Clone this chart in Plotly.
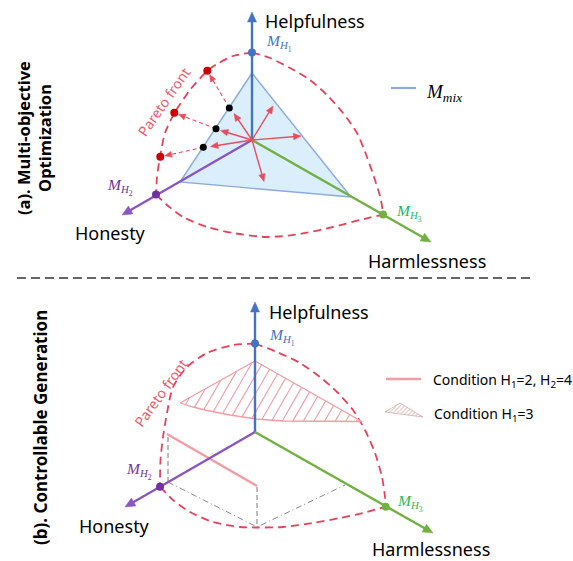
import numpy as np
import plotly.graph_objects as go

W, H = 573, 561
FONT = "Comic Sans MS, Noto Sans, sans-serif"
MATH = "Liberation Serif, DejaVu Serif, serif"

BLUE, PURPLE, GREEN = "#4472c4", "#8a56c2", "#72b043"
PURPLE_DOT, GREEN_TXT = "#7030a0", "#1db954"
RED_ARC, RED_ARROW, RED_DOT = "#e8415a", "#e84c5e", "#cc0000"
PINK, TRI_EDGE, TRI_FILL = "#f29ca5", "#8eaadb", "rgba(214,236,252,0.9)"
GRAY = "#888888"

# ---------------- panel (a): Multi-objective Optimization ----------------
A_ORIGIN = (252, 140)
A_TIP_HELP = (252, 12)
A_TIP_HON = (122, 215)
A_TIP_HARM = (431, 242)
A_M_X = [252, 156, 383]
A_M_Y = [52.5, 194.5, 214.5]
A_TRI_X = [252, 180, 351, 252]
A_TRI_Y = [73, 182, 197, 73]
A_ARC_LEFT_X = [252, 233, 217, 207, 190, 175, 165, 160, 157, 156]
A_ARC_LEFT_Y = [52.5, 56, 64, 71, 90, 112, 133, 157, 177, 194.5]
A_ARC_RIGHT_X = [252, 270, 290, 310, 327, 343, 357, 367, 375, 380, 382, 383]
A_ARC_RIGHT_Y = [52.5, 58, 68, 80, 95, 113, 133, 157, 180, 196, 206, 214.5]
A_ARC_BOT_X = [156, 167, 183, 207, 233, 267, 300, 333, 360, 383]
A_ARC_BOT_Y = [194.5, 205, 217, 227, 233, 237, 234, 227, 220, 214.5]
A_ARROW_X = [234, 220.5, 210.5, 273, 301, 264]
A_ARROW_Y = [113.5, 130.5, 146.5, 106, 136, 181.5]
A_BLACK_X = [229.3, 216, 203.3]
A_BLACK_Y = [108, 128.7, 147.3]
A_RED_X = [207.3, 174.3, 160.3]
A_RED_Y = [70.7, 112.8, 156.8]

# ---------------- panel (b): Controllable Generation ----------------
B_ORIGIN = (255, 432)
B_TIP_HELP = (255, 302)
B_TIP_HON = (125, 507)
B_TIP_HARM = (433, 533)
B_M_X = [255, 160, 385.7]
B_M_Y = [343.5, 486.7, 506.7]
B_ARC_LEFT_X = [255, 233, 207, 187, 173, 167, 163, 160.5, 160]
B_ARC_LEFT_Y = [343.5, 345, 353, 367, 387, 413, 437, 460, 486.7]
B_ARC_RIGHT_X = [255, 277, 300, 320, 337, 353, 365, 375, 382, 385, 385.7]
B_ARC_RIGHT_Y = [343.5, 352, 363, 377, 392, 410, 430, 453, 477, 497, 506.7]
B_ARC_BOT_X = [160, 173, 190, 213, 240, 257, 283, 313, 340, 363, 385.7]
B_ARC_BOT_Y = [486.7, 500, 512, 522, 527, 527.5, 527, 523, 518, 513, 506.7]
B_HATCH_X = [255, 180, 193, 207, 230, 256, 283, 320, 362, 255]
B_HATCH_Y = [361, 403, 407, 410.5, 415, 419, 421, 421.5, 421.5, 361]
B_COND_X = [167, 257]
B_COND_Y = [434, 486]
B_VDASH1_X, B_VDASH1_Y = [168, 168], [437, 482]
B_VDASH2_X, B_VDASH2_Y = [257, 257], [487, 527]
B_FLOOR_X = [168, 257, 345]
B_FLOOR_Y = [482, 527, 485]

fig = go.Figure()


def line(xs, ys, color, width, dash=None, shape="linear", fill=None, fillcolor=None, smoothing=None):
    ln = dict(color=color, width=width, dash=dash, shape=shape)
    if smoothing is not None:
        ln["smoothing"] = smoothing
    fig.add_trace(go.Scatter(x=xs, y=ys, mode="lines", hoverinfo="skip", line=ln,
                             fill=fill, fillcolor=fillcolor, showlegend=False))


def arrow(p0, p1, color, width, head_len, head_w, dash=None, stop=0.0):
    """Straight arrow from p0 to p1, ending in a filled triangular head."""
    p0 = np.array(p0, float)
    p1 = np.array(p1, float)
    d = (p1 - p0) / np.linalg.norm(p1 - p0)
    tip = p1 - stop * d
    n = np.array([-d[1], d[0]])
    base = tip - head_len * d
    end = tip - 0.7 * head_len * d
    line([p0[0], end[0]], [p0[1], end[1]], color, width, dash=dash)
    hx = [tip[0], base[0] + n[0] * head_w / 2, base[0] - n[0] * head_w / 2, tip[0]]
    hy = [tip[1], base[1] + n[1] * head_w / 2, base[1] - n[1] * head_w / 2, tip[1]]
    line(hx, hy, color, 0.5, fill="toself", fillcolor=color)


def dots(xs, ys, color, size):
    fig.add_trace(go.Scatter(x=xs, y=ys, mode="markers", hoverinfo="skip",
                             marker=dict(color=color, size=size, line=dict(width=0)),
                             showlegend=False))


def text(x, y, s, size, color="black", xanchor="center", family=FONT, angle=0):
    fig.add_annotation(x=x, y=y, text=s, showarrow=False, xanchor=xanchor, yanchor="middle",
                       textangle=angle, font=dict(family=family, size=size, color=color))


def hatch_segments(px, py, angle_deg, spacing):
    d = np.array([np.cos(np.radians(angle_deg)), -np.sin(np.radians(angle_deg))])
    n = np.array([-d[1], d[0]])
    pts = np.column_stack([px, py]).astype(float)
    proj = pts @ n
    xs, ys = [], []
    for c in np.arange(proj.min() + spacing * 0.6, proj.max(), spacing):
        p0 = c * n
        ts = []
        for i in range(len(pts) - 1):
            a, b = pts[i], pts[i + 1]
            e = b - a
            M = np.array([[e[0], -d[0]], [e[1], -d[1]]])
            if abs(np.linalg.det(M)) < 1e-9:
                continue
            s, t = np.linalg.solve(M, p0 - a)
            if -1e-9 <= s <= 1 + 1e-9:
                ts.append(t)
        if len(ts) >= 2:
            q1, q2 = p0 + min(ts) * d, p0 + max(ts) * d
            xs += [q1[0], q2[0], None]
            ys += [q1[1], q2[1], None]
    return xs, ys


# ---- panel (a) ----
line(A_TRI_X, A_TRI_Y, TRI_EDGE, 1.4, fill="toself", fillcolor=TRI_FILL)
for ax_, ay_ in [(A_ARC_LEFT_X, A_ARC_LEFT_Y), (A_ARC_RIGHT_X, A_ARC_RIGHT_Y), (A_ARC_BOT_X, A_ARC_BOT_Y)]:
    line(ax_, ay_, RED_ARC, 1.8, dash="8px,5px", shape="spline", smoothing=0.7)
for tip, col in [(A_TIP_HELP, BLUE), (A_TIP_HON, PURPLE), (A_TIP_HARM, GREEN)]:
    arrow(A_ORIGIN, tip, col, 2.4, 10, 9)
for bx, by, rx, ry in zip(A_BLACK_X, A_BLACK_Y, A_RED_X, A_RED_Y):
    arrow((bx, by), (rx, ry), RED_ARROW, 1.1, 7, 6, dash="4px,3px", stop=4.5)
for tx, ty in zip(A_ARROW_X, A_ARROW_Y):
    arrow(A_ORIGIN, (tx, ty), RED_ARROW, 1.4, 7.5, 6.5)
dots(A_BLACK_X, A_BLACK_Y, "black", 7)
dots(A_RED_X, A_RED_Y, RED_DOT, 8)
dots(A_M_X, A_M_Y, [BLUE, PURPLE_DOT, GREEN], 8)

# ---- panel (b) ----
for ax_, ay_ in [(B_ARC_LEFT_X, B_ARC_LEFT_Y), (B_ARC_RIGHT_X, B_ARC_RIGHT_Y), (B_ARC_BOT_X, B_ARC_BOT_Y)]:
    line(ax_, ay_, RED_ARC, 1.8, dash="8px,5px", shape="spline", smoothing=0.7)
hx, hy = hatch_segments(B_HATCH_X, B_HATCH_Y, 60, 9.2)
line(hx, hy, PINK, 1.1)
line(B_HATCH_X, B_HATCH_Y, PINK, 1.3)
line(B_VDASH1_X, B_VDASH1_Y, GRAY, 1.1, dash="5px,3px")
line(B_VDASH2_X, B_VDASH2_Y, GRAY, 1.1, dash="5px,3px")
line(B_FLOOR_X, B_FLOOR_Y, GRAY, 1.0, dash="6px,3px,1px,3px")
line(B_COND_X, B_COND_Y, PINK, 2.3)
for tip, col in [(B_TIP_HELP, BLUE), (B_TIP_HON, PURPLE), (B_TIP_HARM, GREEN)]:
    arrow(B_ORIGIN, tip, col, 2.4, 10, 9)
dots(B_M_X, B_M_Y, [BLUE, PURPLE_DOT, GREEN], 8)

# ---- legends ----
line([391, 416], [88, 88], TRI_EDGE, 2.2)
text(424, 93, "<i>M</i><sub><i>mix</i></sub>", 19, "black", "left", MATH)
line([386, 421], [379, 379], PINK, 2.3)
text(431, 380, "Condition H<sub>1</sub>=2, H<sub>2</sub>=4", 14, "black", "left")
fig.add_trace(go.Scatter(x=[385, 400, 423, 385], y=[412, 403, 417, 412], mode="lines",
                         fill="toself", hoverinfo="skip", showlegend=False,
                         line=dict(color="#d9a9a9", width=0.8),
                         fillcolor="white",
                         fillpattern=dict(shape="/", size=3, solidity=0.35,
                                          fgcolor="#c58a8a", bgcolor="white")))
text(432, 414, "Condition H<sub>1</sub>=3", 14, "black", "left")

# ---- divider ----
line([17, 530], [278, 278], "#333333", 1.4, dash="9px,5px")

# ---- axis titles and labels ----
text(263, 21, "Helpfulness", 18, "black", "left")
text(110, 233, "Honesty", 18)
text(427, 261, "Harmlessness", 18)
text(267, 312, "Helpfulness", 18, "black", "left")
text(114, 526, "Honesty", 18)
text(431, 549, "Harmlessness", 18)

text(264, 43, "<i>M</i><sub><i>H</i><sub>1</sub></sub>", 15.5, BLUE, "left", MATH)
text(120, 187, "<i>M</i><sub><i>H</i><sub>2</sub></sub>", 15.5, PURPLE_DOT, "center", MATH)
text(394, 213, "<i>M</i><sub><i>H</i><sub>3</sub></sub>", 15.5, GREEN_TXT, "left", MATH)
text(267, 337, "<i>M</i><sub><i>H</i><sub>1</sub></sub>", 15.5, BLUE, "left", MATH)
text(139, 471, "<i>M</i><sub><i>H</i><sub>2</sub></sub>", 15.5, PURPLE_DOT, "center", MATH)
text(395, 503, "<i>M</i><sub><i>H</i><sub>3</sub></sub>", 15.5, GREEN_TXT, "left", MATH)

text(163, 102, "Pareto front", 14, "#ee5a6c", angle=-55)
text(160, 393, "Pareto front", 14, "#ee5a6c", angle=-54)

text(34, 138, "<b>(a). Multi-objective<br>Optimization</b>", 16.5, angle=-90)
text(40, 428, "<b>(b). Controllable Generation</b>", 17, angle=-90)

fig.update_layout(
    width=W, height=H, autosize=False,
    margin=dict(l=0, r=0, t=0, b=0, pad=0),
    paper_bgcolor="white", plot_bgcolor="white",
    xaxis=dict(range=[0, W], visible=False, fixedrange=True),
    yaxis=dict(range=[H, 0], visible=False, fixedrange=True),
    showlegend=False,
)
fig.write_html("out.html", config={"displayModeBar": False},
               post_script="document.body.style.margin='0px';")
